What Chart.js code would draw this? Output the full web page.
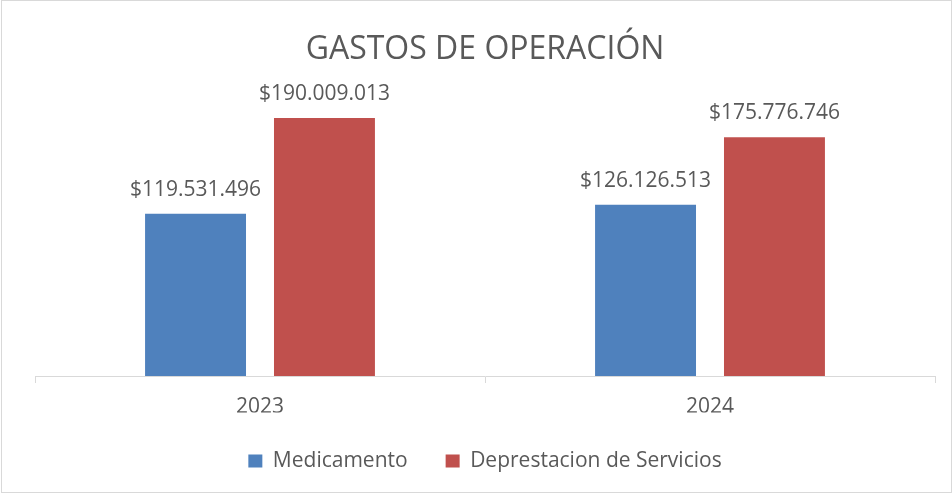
<!DOCTYPE html>
<html>
<head>
<meta charset="utf-8">
<script src="https://cdn.jsdelivr.net/npm/chart.js@4"></script>
<style>
html,body{margin:0;padding:0;background:#fff;}
#wrap{width:952px;height:493px;}
</style>
</head>
<body>
<div id="wrap"><canvas id="c" width="952" height="493"></canvas></div>
<script>
const chartTitle = "GASTOS DE OPERACIÓN";
const categories = ["2023", "2024"];
const seriesNames = ["Medicamento", "Deprestacion de Servicios"];
const medicamento = [119531496, 126126513];
const depreciacion = [190009013, 175776746];
const yMax = 200000000;

const FONT = "'Open Sans', 'Liberation Sans', sans-serif";
const TEXT = "#595959";

function fmt(v){
  return "$" + String(Math.round(v)).replace(/\B(?=(\d{3})+(?!\d))/g, ".");
}

const bgBorder = {
  id: "bgBorder",
  beforeDraw(chart){
    const c = chart.ctx;
    c.save();
    c.fillStyle = "#fff";
    c.fillRect(0,0,chart.width,chart.height);
    c.strokeStyle = "#d9d9d9";
    c.lineWidth = 1;
    c.strokeRect(1.5,0.5,chart.width-2,chart.height-1);
    c.restore();
  }
};

const dataLabels = {
  id: "dataLabels",
  afterDatasetsDraw(chart){
    const c = chart.ctx;
    c.save();
    c.font = "21px " + FONT;
    c.fillStyle = TEXT;
    c.textAlign = "center";
    c.textBaseline = "middle";
    chart.data.datasets.forEach((ds, i) => {
      chart.getDatasetMeta(i).data.forEach((bar, j) => {
        c.fillText(fmt(ds.data[j]), bar.x, bar.y - 24);
      });
    });
    c.restore();
  }
};

new Chart(document.getElementById("c"), {
  type: "bar",
  data: {
    labels: categories,
    datasets: [
      { label: seriesNames[0], data: medicamento, backgroundColor: "#4F81BD" },
      { label: seriesNames[1], data: depreciacion, backgroundColor: "#C0504D" }
    ]
  },
  options: {
    responsive: false,
    animation: false,
    devicePixelRatio: 1,
    categoryPercentage: 0.573,
    barPercentage: 0.783,
    layout: { padding: { left: 35, right: 17, top: 0, bottom: 11.5 } },
    plugins: {
      title: {
        display: true,
        text: chartTitle,
        color: TEXT,
        font: { family: FONT, size: 32, weight: "normal" },
        padding: { top: 30.8, bottom: 35.2 }
      },
      legend: {
        position: "bottom",
        labels: {
          color: TEXT,
          font: { family: FONT, size: 21 },
          boxWidth: 14,
          boxHeight: 13,
          padding: 38
        }
      },
      tooltip: { enabled: false }
    },
    scales: {
      x: {
        grid: { display: true, drawOnChartArea: false, color: "#d9d9d9", tickLength: 7, offset: true },
        border: { color: "#d9d9d9" },
        ticks: { color: TEXT, font: { family: FONT, size: 21, lineHeight: 1 }, padding: 14 },
        afterFit(scale){ scale.height = 36.5; }
      },
      y: {
        display: false,
        min: 0,
        max: yMax
      }
    }
  },
  plugins: [bgBorder, dataLabels]
});
</script>
</body>
</html>
